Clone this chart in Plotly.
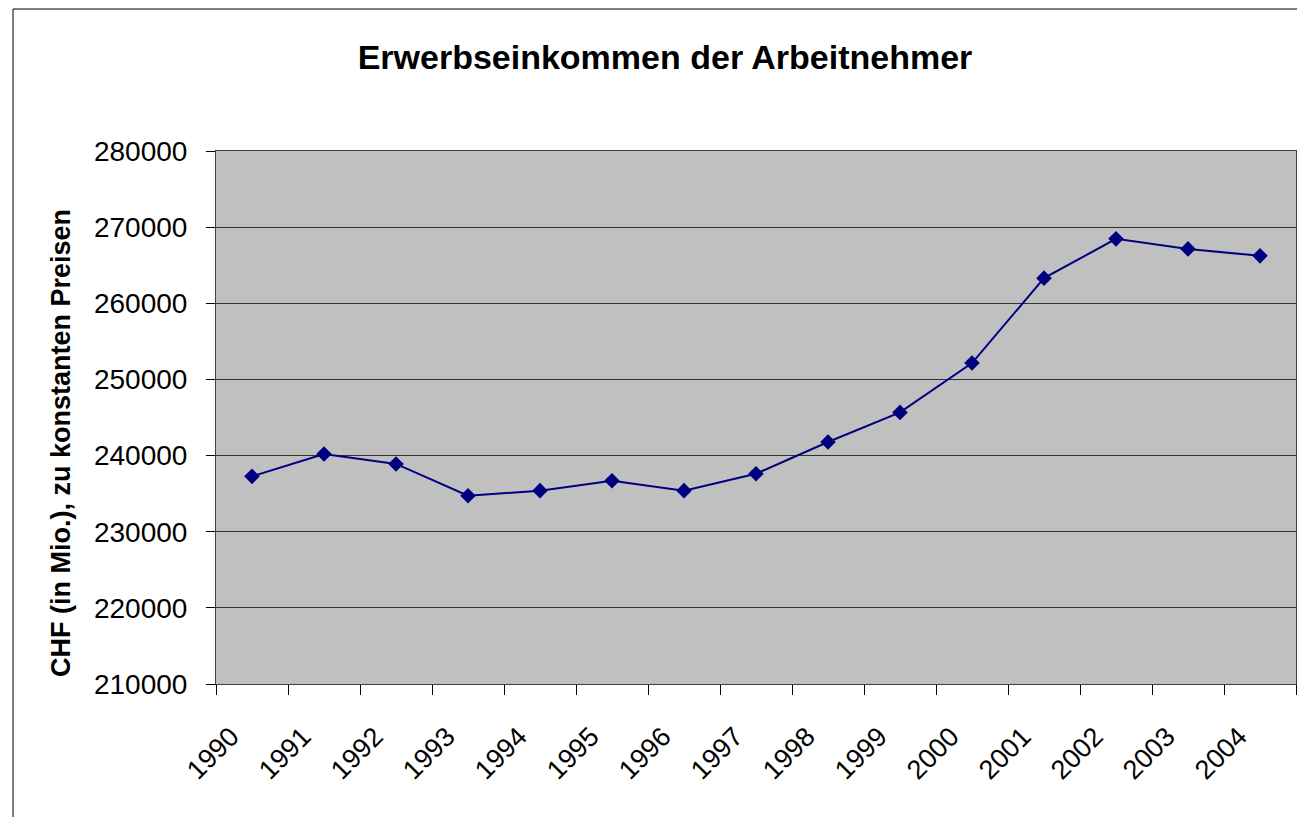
import plotly.graph_objects as go

years = ["1990", "1991", "1992", "1993", "1994", "1995", "1996", "1997",
         "1998", "1999", "2000", "2001", "2002", "2003", "2004"]
income = [237270, 240200, 238900, 234730, 235390, 236700, 235390, 237620,
          241780, 245670, 252150, 263300, 268460, 267140, 266230]

title_text = "Erwerbseinkommen der Arbeitnehmer"
y_title = "CHF (in Mio.), zu konstanten Preisen"

W, H = 1297, 817
L, R, T, B = 216, 1, 151, 133
pw = W - L - R
ph = H - T - B

fig = go.Figure()
fig.add_trace(go.Scatter(
    x=years, y=income, mode="lines+markers",
    line=dict(color="#000080", width=2),
    marker=dict(symbol="diamond", size=12, color="#000080"),
    showlegend=False,
))

FONT = "Liberation Sans, Arial, sans-serif"

fig.update_layout(
    width=W, height=H, autosize=False,
    margin=dict(l=L, r=R, t=T, b=B, pad=0),
    paper_bgcolor="white",
    plot_bgcolor="#C0C0C0",
    font=dict(family=FONT, color="black"),
    title=dict(text="<b>" + title_text + "</b>", xref="container", yref="container",
               x=665 / W, y=1 - 57 / H, xanchor="center", yanchor="middle",
               font=dict(size=34, family=FONT, color="black")),
    xaxis=dict(type="category", range=[-0.5, 14.5], tickson="boundaries",
               ticks="outside", ticklen=10, tickcolor="black", tickwidth=1,
               showline=True, linecolor="#404040", linewidth=1, mirror=True,
               showgrid=False, tickangle=-45,
               tickfont=dict(size=27, family=FONT, color="black"),
               ticklabelstandoff=25, ticklabelshift=-21),
    yaxis=dict(range=[210000, 280000], dtick=10000, tickformat="d",
               ticks="outside", ticklen=9, tickcolor="black", tickwidth=1,
               showline=True, linecolor="#404040", linewidth=1, mirror=True,
               showgrid=True, gridcolor="#303030", gridwidth=1,
               zeroline=False,
               tickfont=dict(size=28, family=FONT, color="black"),
               ticklabelstandoff=13),
    annotations=[dict(text="<b>" + y_title + "</b>", textangle=-90,
                      xref="paper", yref="paper",
                      x=(61 - L) / pw, y=(H - B - 443) / ph,
                      xanchor="center", yanchor="middle", showarrow=False,
                      font=dict(size=27, family=FONT, color="black"))],
    shapes=[dict(type="rect", xref="paper", yref="paper",
                 x0=(13 - L) / pw, x1=(1330 - L) / pw,
                 y0=(H - B - 840) / ph, y1=(H - B - 9) / ph,
                 line=dict(color="black", width=1), fillcolor="rgba(0,0,0,0)",
                 layer="below")],
)

fig.write_html("out.html", config={"displayModeBar": False})

with open("out.html", encoding="utf-8") as f:
    html = f.read()
html = html.replace("<body>", '<body style="margin:0;overflow:hidden">', 1)
with open("out.html", "w", encoding="utf-8") as f:
    f.write(html)
